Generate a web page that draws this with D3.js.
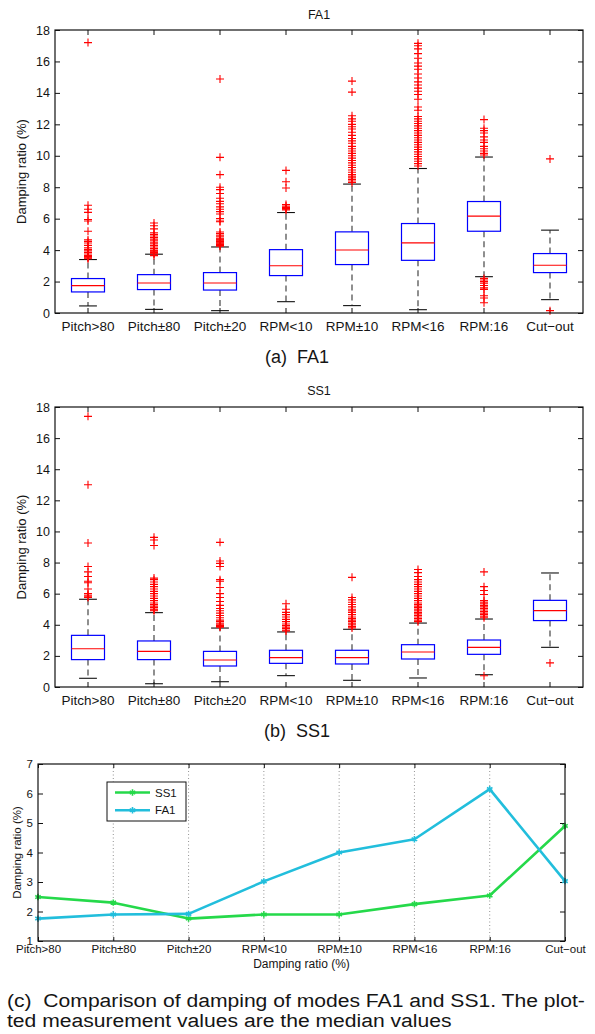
<!DOCTYPE html>
<html>
<head>
<meta charset="utf-8">
<script src="https://cdn.jsdelivr.net/npm/d3@7"></script>
<style>
  body { margin: 0; background: #fff; }
  svg { display: block; }
  text { font-family: "Liberation Sans", Arial, Helvetica, sans-serif; fill: #151515; }
</style>
</head>
<body>
<svg id="fig" width="595" height="1034"></svg>
<script>
// Operating regimes (x categories shared by all three panels)
const categories = ["Pitch>80", "Pitch\u00b180", "Pitch\u00b120", "RPM<10", "RPM\u00b110", "RPM<16", "RPM:16", "Cut\u2212out"];
const boxTicks = [0, 2, 4, 6, 8, 10, 12, 14, 16, 18];
const lineTicks = [1, 2, 3, 4, 5, 6, 7];

// FA1 damping ratio (%) box statistics per regime
const fa1Low    = [0.45, 0.23, 0.15, 0.72, 0.47, 0.21, 2.31, 0.85];
const fa1Q1     = [1.34, 1.49, 1.46, 2.38, 3.08, 3.35, 5.20, 2.57];
const fa1Median = [1.74, 1.91, 1.91, 3.01, 4.01, 4.46, 6.16, 3.04];
const fa1Q3     = [2.19, 2.44, 2.57, 4.03, 5.16, 5.69, 7.09, 3.78];
const fa1High   = [3.40, 3.74, 4.20, 6.39, 8.20, 9.19, 9.92, 5.27];
const fa1Outliers = [
  [17.2, 6.85, 6.6, 6.4, 5.95, 5.85, 5.2, 4.65, 4.55, 4.45, 4.3, 4.15, 4.05, 3.95, 3.85, 3.75, 3.65, 3.6, 3.55, 3.5, 3.45],
  [5.72, 5.55, 5.35, 5.1, 5.0, 4.9, 4.8, 4.7, 4.6, 4.5, 4.4, 4.3, 4.2, 4.1, 4.0, 3.95, 3.9, 3.85, 3.8, 3.75, 3.65],
  [14.88, 9.9, 8.8, 8.0, 7.85, 7.6, 7.3, 7.1, 6.95, 6.75, 6.6, 6.45, 6.3, 6.0, 5.85, 5.8, 5.15, 5.05, 4.95, 4.85, 4.75, 4.7, 4.65, 4.6, 4.55, 4.5, 4.45, 4.4, 4.35, 4.3, 4.25],
  [9.07, 8.35, 7.95, 6.9, 6.8, 6.7, 6.65, 6.6, 6.55],
  [14.75, 14.05, 12.55, 12.35, 12.2, 12.0, 11.85, 11.7, 11.5, 11.3, 11.1, 10.95, 10.8, 10.6, 10.45, 10.3, 10.15, 10.0, 9.85, 9.7, 9.55, 9.4, 9.25, 9.1, 8.95, 8.8, 8.7, 8.6, 8.5, 8.4, 8.3],
  [17.15, 17.0, 16.8, 16.5, 16.2, 15.9, 15.7, 15.5, 15.2, 14.95, 14.7, 14.5, 14.3, 14.1, 13.9, 13.6, 13.1, 12.9, 12.5, 12.35, 12.2, 12.05, 11.9, 11.75, 11.6, 11.45, 11.3, 11.15, 11.0, 10.85, 10.7, 10.55, 10.4, 10.25, 10.1, 9.95, 9.8, 9.65, 9.5, 9.35],
  [12.3, 11.75, 11.6, 11.45, 11.2, 11.0, 10.85, 10.6, 10.45, 10.3, 10.15, 10.05, 2.2, 2.1, 2.0, 1.9, 1.75, 1.6, 1.5, 1.1, 0.95, 0.65],
  [9.8, 0.15]
];

// SS1 damping ratio (%) box statistics per regime
const ss1Low    = [0.56, 0.21, 0.34, 0.73, 0.43, 0.58, 0.79, 2.55];
const ss1Q1     = [1.76, 1.76, 1.35, 1.52, 1.48, 1.80, 2.10, 4.27];
const ss1Median = [2.46, 2.29, 1.74, 1.89, 1.89, 2.25, 2.55, 4.91];
const ss1Q3     = [3.32, 2.96, 2.29, 2.36, 2.36, 2.72, 3.02, 5.57];
const ss1High   = [5.64, 4.78, 3.79, 3.54, 3.71, 4.11, 4.37, 7.33];
const ss1Outliers = [
  [17.4, 13.0, 9.26, 7.75, 7.4, 7.1, 6.8, 6.7, 6.3, 6.0, 5.9, 5.8, 5.75],
  [9.62, 9.45, 9.1, 7.0, 6.9, 6.75, 6.6, 6.45, 6.3, 6.15, 6.0, 5.85, 5.7, 5.55, 5.4, 5.3, 5.2, 5.1, 5.0, 4.95, 4.9],
  [9.3, 8.1, 7.95, 7.75, 6.9, 6.8, 6.4, 6.0, 5.75, 5.5, 5.25, 5.05, 4.9, 4.75, 4.6, 4.45, 4.3, 4.2, 4.1, 4.0, 3.95, 3.9, 3.85],
  [5.35, 5.0, 4.8, 4.65, 4.5, 4.35, 4.2, 4.05, 3.95, 3.85, 3.75, 3.65, 3.6],
  [7.05, 5.75, 5.6, 5.45, 5.3, 5.15, 5.0, 4.9, 4.8, 4.65, 4.5, 4.4, 4.3, 4.2, 4.1, 4.0, 3.9, 3.8],
  [7.55, 7.35, 7.1, 6.9, 6.75, 6.6, 6.45, 6.3, 6.15, 6.0, 5.85, 5.7, 5.55, 5.4, 5.3, 5.2, 5.1, 5.0, 4.9, 4.8, 4.7, 4.6, 4.5, 4.4, 4.3, 4.2],
  [7.4, 6.45, 6.2, 5.95, 5.55, 5.45, 5.35, 5.25, 5.15, 5.05, 4.95, 4.85, 4.75, 4.65, 4.55, 4.45, 0.72],
  [1.55]
];

// Median damping ratio (%) per regime for the comparison plot
const medianSS1 = [2.49, 2.30, 1.76, 1.90, 1.90, 2.25, 2.54, 4.90];
const medianFA1 = [1.76, 1.90, 1.92, 3.02, 4.00, 4.45, 6.15, 3.03];
const seriesNames = ["SS1", "FA1"];
const seriesColors = ["#25d94a", "#22bedc"];

const svg = d3.select("#fig");

function styleAxis(sel, fontSize) {
  sel.select(".domain").remove();
  sel.selectAll(".tick line").attr("stroke", "#111").attr("stroke-width", 1);
  sel.selectAll(".tick text").attr("font-size", fontSize).attr("fill", "#151515")
     .attr("font-family", "'Liberation Sans', Arial, Helvetica, sans-serif");
}

function boxPanel(o) {
  const g = svg.append("g");
  const x = d3.scaleBand().domain(categories).range([o.left, o.right]).padding(0);
  const y = d3.scaleLinear().domain([0, 18]).range([o.bottom, o.top]);
  const boxW = x.bandwidth() * 0.5;
  const capW = x.bandwidth() * 0.27;

  // Axes with inward ticks on all four sides
  g.append("g").attr("transform", `translate(${o.left},0)`)
    .call(d3.axisLeft(y).tickValues(boxTicks).tickSizeInner(-5).tickSizeOuter(0).tickPadding(5))
    .call(s => styleAxis(s, 12.5));
  g.append("g").attr("transform", `translate(${o.right},0)`)
    .call(d3.axisRight(y).tickValues(boxTicks).tickSizeInner(-5).tickSizeOuter(0).tickFormat(""))
    .call(s => styleAxis(s, 12.5));
  g.append("g").attr("transform", `translate(0,${o.bottom})`)
    .call(d3.axisBottom(x).tickSizeInner(-5).tickSizeOuter(0).tickPadding(8))
    .call(s => styleAxis(s, 13.5));
  g.append("g").attr("transform", `translate(0,${o.top})`)
    .call(d3.axisTop(x).tickSizeInner(-5).tickSizeOuter(0).tickFormat(""))
    .call(s => styleAxis(s, 13));

  const rows = categories.map((c, i) => ({
    c, lo: o.low[i], q1: o.q1[i], med: o.median[i], q3: o.q3[i], hi: o.high[i], out: o.outliers[i]
  }));
  const cx = d => x(d.c) + x.bandwidth() / 2;

  const items = g.append("g").selectAll("g").data(rows).join("g");
  // dashed whiskers
  items.append("line").attr("x1", cx).attr("x2", cx)
    .attr("y1", d => y(d.q3)).attr("y2", d => y(d.hi))
    .attr("stroke", "#333").attr("stroke-width", 1.1).attr("stroke-dasharray", "6,4");
  items.append("line").attr("x1", cx).attr("x2", cx)
    .attr("y1", d => y(d.q1)).attr("y2", d => y(d.lo))
    .attr("stroke", "#333").attr("stroke-width", 1.1).attr("stroke-dasharray", "6,4");
  // whisker caps
  items.append("line").attr("x1", d => cx(d) - capW / 2).attr("x2", d => cx(d) + capW / 2)
    .attr("y1", d => y(d.hi)).attr("y2", d => y(d.hi)).attr("stroke", "#111").attr("stroke-width", 1.1);
  items.append("line").attr("x1", d => cx(d) - capW / 2).attr("x2", d => cx(d) + capW / 2)
    .attr("y1", d => y(d.lo)).attr("y2", d => y(d.lo)).attr("stroke", "#111").attr("stroke-width", 1.1);
  // boxes
  items.append("rect").attr("x", d => cx(d) - boxW / 2).attr("width", boxW)
    .attr("y", d => y(d.q3)).attr("height", d => y(d.q1) - y(d.q3))
    .attr("fill", "none").attr("stroke", "#0000ff").attr("stroke-width", 1.2);
  // medians
  items.append("line").attr("x1", d => cx(d) - boxW / 2).attr("x2", d => cx(d) + boxW / 2)
    .attr("y1", d => y(d.med)).attr("y2", d => y(d.med))
    .attr("stroke", "#ff0000").attr("stroke-width", 1.1);
  // outliers as red crosses
  items.selectAll("path.out").data(d => d.out.map(v => ({ x: cx(d), v }))).join("path")
    .attr("class", "out")
    .attr("d", "M-4,0H4M0,-4V4")
    .attr("transform", d => `translate(${d.x},${y(d.v)})`)
    .attr("stroke", "#ff0000").attr("stroke-width", 1.1).attr("fill", "none");

  // frame
  g.append("rect").attr("x", o.left).attr("y", o.top)
    .attr("width", o.right - o.left).attr("height", o.bottom - o.top)
    .attr("fill", "none").attr("stroke", "#111").attr("stroke-width", 1.2);

  // title and y label
  g.append("text").attr("x", (o.left + o.right) / 2).attr("y", o.titleY)
    .attr("text-anchor", "middle").attr("font-size", 12.5).text(o.title);
  g.append("text")
    .attr("transform", `translate(26,${(o.top + o.bottom) / 2}) rotate(-90)`)
    .attr("text-anchor", "middle").attr("font-size", 13).text("Damping ratio (%)");
}

boxPanel({
  left: 55, right: 583, top: 30, bottom: 313, titleY: 19, title: "FA1",
  low: fa1Low, q1: fa1Q1, median: fa1Median, q3: fa1Q3, high: fa1High, outliers: fa1Outliers
});
boxPanel({
  left: 55, right: 583, top: 407, bottom: 687, titleY: 395, title: "SS1",
  low: ss1Low, q1: ss1Q1, median: ss1Median, q3: ss1Q3, high: ss1High, outliers: ss1Outliers
});

// Comparison of medians
(function linePanel() {
  const L = 38, R = 565, T = 764, B = 941;
  const g = svg.append("g");
  const x = d3.scalePoint().domain(categories).range([L, R]).padding(0);
  const y = d3.scaleLinear().domain([1, 7]).range([B, T]);

  // vertical dotted grid
  g.append("g").selectAll("line").data(categories.slice(1, -1)).join("line")
    .attr("x1", d => x(d)).attr("x2", d => x(d)).attr("y1", T).attr("y2", B)
    .attr("stroke", "#777").attr("stroke-width", 0.8).attr("stroke-dasharray", "1,2.5");

  g.append("g").attr("transform", `translate(${L},0)`)
    .call(d3.axisLeft(y).tickValues(lineTicks).tickFormat(d3.format("d"))
      .tickSizeInner(-5).tickSizeOuter(0).tickPadding(5))
    .call(s => styleAxis(s, 11.5));
  g.append("g").attr("transform", `translate(${R},0)`)
    .call(d3.axisRight(y).tickValues(lineTicks).tickSizeInner(-5).tickSizeOuter(0).tickFormat(""))
    .call(s => styleAxis(s, 11.5));
  g.append("g").attr("transform", `translate(0,${B})`)
    .call(d3.axisBottom(x).tickSizeInner(-4).tickSizeOuter(0).tickPadding(4))
    .call(s => styleAxis(s, 11.5));
  g.append("g").attr("transform", `translate(0,${T})`)
    .call(d3.axisTop(x).tickSizeInner(-4).tickSizeOuter(0).tickFormat(""))
    .call(s => styleAxis(s, 11.5));

  const series = [medianSS1, medianFA1].map((vals, k) => ({
    name: seriesNames[k], color: seriesColors[k],
    pts: categories.map((c, i) => ({ c, v: vals[i] }))
  }));
  const line = d3.line().x(d => x(d.c)).y(d => y(d.v));
  const sg = g.append("g").selectAll("g").data(series).join("g");
  sg.append("path").attr("d", d => line(d.pts)).attr("fill", "none")
    .attr("stroke", d => d.color).attr("stroke-width", 2.6).attr("stroke-linejoin", "round");
  const sym = d3.symbol().type(d3.symbolAsterisk).size(28);
  sg.each(function (s) {
    d3.select(this).selectAll("path.m").data(s.pts).join("path").attr("class", "m")
      .attr("d", sym).attr("transform", d => `translate(${x(d.c)},${y(d.v)})`)
      .attr("fill", "none").attr("stroke", s.color).attr("stroke-width", 1.6);
  });

  g.append("rect").attr("x", L).attr("y", T).attr("width", R - L).attr("height", B - T)
    .attr("fill", "none").attr("stroke", "#111").attr("stroke-width", 1.2);

  // legend
  const lg = g.append("g").attr("transform", "translate(107,782)");
  lg.append("rect").attr("width", 79).attr("height", 39).attr("fill", "#fff")
    .attr("stroke", "#111").attr("stroke-width", 1);
  const le = lg.selectAll("g").data(series).join("g")
    .attr("transform", (d, i) => `translate(0,${10.5 + i * 17.7})`);
  le.append("line").attr("x1", 8).attr("x2", 43).attr("stroke", d => d.color).attr("stroke-width", 2.6);
  le.append("path").attr("d", sym).attr("transform", "translate(25.5,0)")
    .attr("fill", "none").attr("stroke", d => d.color).attr("stroke-width", 1.6);
  le.append("text").attr("x", 48).attr("y", 4).attr("font-size", 11.5).text(d => d.name);

  g.append("text").attr("x", (L + R) / 2).attr("y", 968).attr("text-anchor", "middle")
    .attr("font-size", 12).text("Damping ratio (%)");
  g.append("text").attr("transform", `translate(21,${(T + B) / 2}) rotate(-90)`)
    .attr("text-anchor", "middle").attr("font-size", 11.5).text("Damping ratio (%)");
})();

// Sub-figure captions
svg.append("text").attr("x", 297).attr("y", 363).attr("text-anchor", "middle")
  .attr("font-size", 18).style("white-space", "pre").text("(a)  FA1");
svg.append("text").attr("x", 297).attr("y", 737).attr("text-anchor", "middle")
  .attr("font-size", 18).style("white-space", "pre").text("(b)  SS1");

// Two-line caption: the first line is set to the full text width,
// the second keeps the same glyph width.
const capLines = [
  "(c)  Comparison of damping of modes FA1 and SS1. The plot-",
  "ted measurement values are the median values"
];
const cap = svg.append("g");
const capTexts = cap.selectAll("text").data(capLines).join("text")
  .attr("x", 0).attr("y", (d, i) => i * 21).attr("font-size", 18)
  .style("white-space", "pre").text(d => d);
const natural = capTexts.nodes()[0].getComputedTextLength();
const k = 578 / natural;
cap.attr("transform", `translate(7,1006.5) scale(${k},1)`);
</script>
</body>
</html>
